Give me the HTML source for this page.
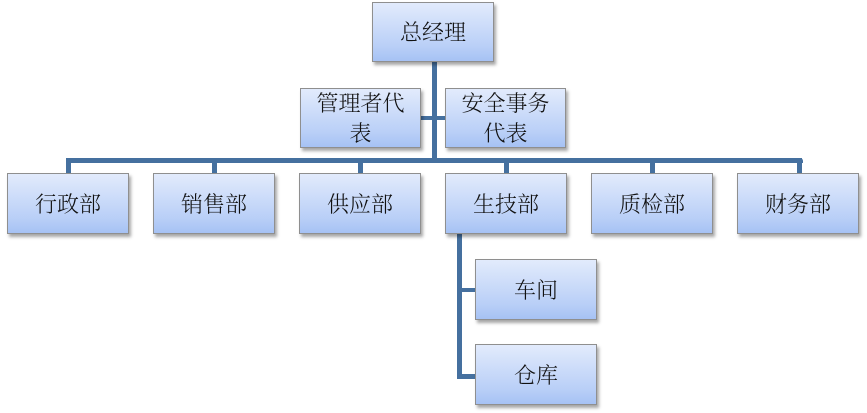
<!DOCTYPE html>
<html><head><meta charset="utf-8"><style>
body{margin:0;width:867px;height:413px;background:#fff;position:relative;overflow:hidden;font-family:"Noto Serif CJK SC","Liberation Serif",serif}
.b{position:absolute;box-sizing:border-box;border:1px solid #8f8f8f;background:linear-gradient(#e2ebfc,#b9cff7 75%,#a6c2f4);box-shadow:2px 3px 3px rgba(0,0,0,0.35);display:flex;align-items:center;justify-content:center;text-align:center;font-size:22px;line-height:30px;color:#111;font-weight:300}
.l{position:absolute;background:#45709f}
</style></head><body>
<div class="l" style="left:432px;top:60px;width:5px;height:103px"></div>
<div class="l" style="left:418px;top:116px;width:30px;height:4px"></div>
<div class="l" style="left:66px;top:158px;width:737px;height:5px;border-radius:3px 3px 0 0"></div>
<div class="l" style="left:66px;top:158px;width:5px;height:18px"></div>
<div class="l" style="left:212px;top:158px;width:5px;height:18px"></div>
<div class="l" style="left:358px;top:158px;width:5px;height:18px"></div>
<div class="l" style="left:504px;top:158px;width:5px;height:18px"></div>
<div class="l" style="left:650px;top:158px;width:5px;height:18px"></div>
<div class="l" style="left:797px;top:158px;width:5px;height:18px"></div>
<div class="l" style="left:457px;top:233px;width:5px;height:146px"></div>
<div class="l" style="left:457px;top:288px;width:21px;height:4px"></div>
<div class="l" style="left:457px;top:374px;width:21px;height:5px"></div>
<div class="b" style="left:372px;top:2px;width:122px;height:60px">总经理</div>
<div class="b" style="left:300px;top:88px;width:121px;height:60px">管理者代<br>表</div>
<div class="b" style="left:445px;top:88px;width:121px;height:60px">安全事务<br>代表</div>
<div class="b" style="left:7px;top:173px;width:122px;height:61px">行政部</div>
<div class="b" style="left:153px;top:173px;width:122px;height:61px">销售部</div>
<div class="b" style="left:299px;top:173px;width:122px;height:61px">供应部</div>
<div class="b" style="left:445px;top:173px;width:122px;height:61px">生技部</div>
<div class="b" style="left:591px;top:173px;width:122px;height:61px">质检部</div>
<div class="b" style="left:737px;top:173px;width:122px;height:61px">财务部</div>
<div class="b" style="left:475px;top:259px;width:122px;height:61px">车间</div>
<div class="b" style="left:475px;top:344px;width:122px;height:61px">仓库</div>
</body></html>
